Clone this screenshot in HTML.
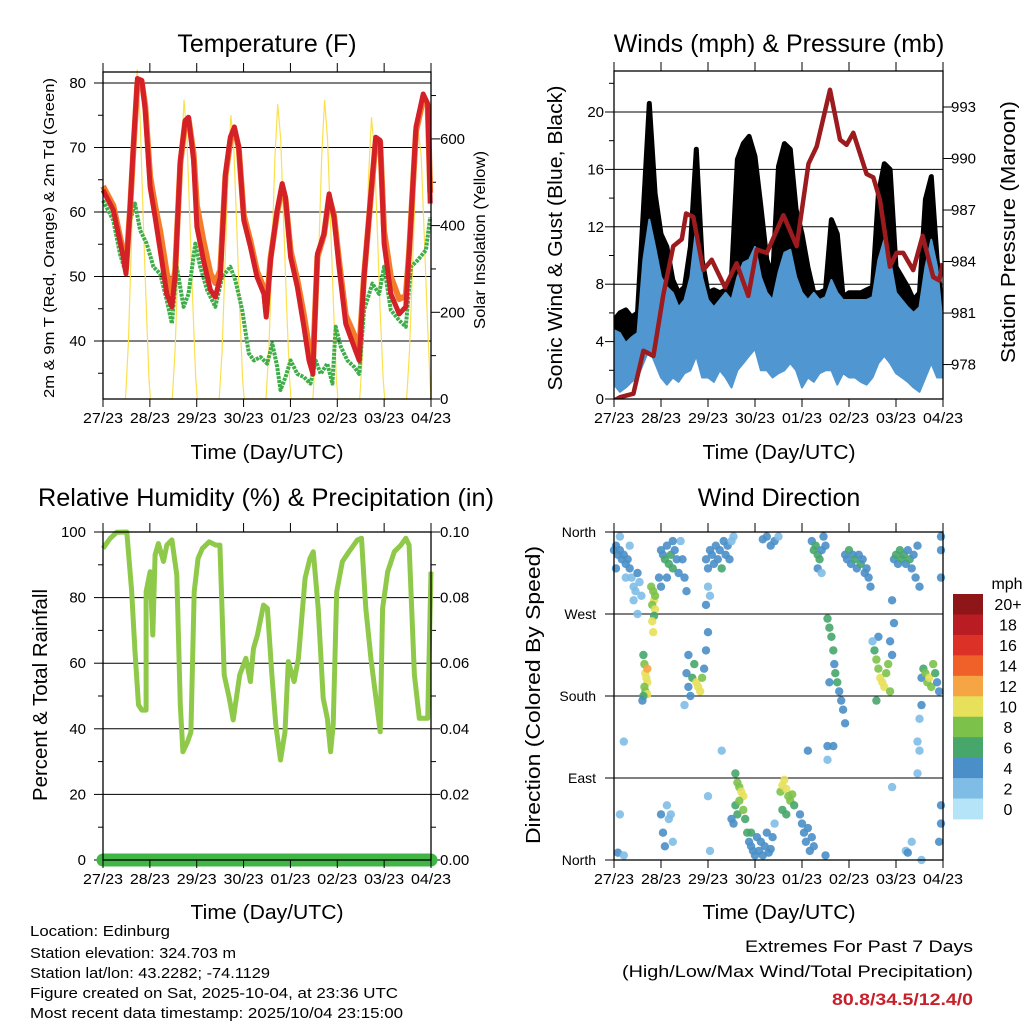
<!DOCTYPE html>
<html><head><meta charset="utf-8"><style>
html,body{margin:0;padding:0;background:#fff;}
svg{display:block;font-family:"Liberation Sans",Arial,sans-serif;}
</style></head><body>
<svg id="root" width="1024" height="1024" viewBox="0 0 1024 1024" xmlns="http://www.w3.org/2000/svg">
<defs><clipPath id="clip2"><rect x="614" y="71" width="329" height="328"/></clipPath></defs>
<rect x="0" y="0" width="1024" height="1024" fill="#fff"/>
<g id="p1"></g>
<g id="p2"></g>
<g id="p3"></g>
<g id="p4"></g>
<g id="txt" fill="#000">
<text x="267" y="52" font-size="25" text-anchor="middle">Temperature (F)</text>
<text x="779" y="52" font-size="25" text-anchor="middle">Winds (mph) &amp; Pressure (mb)</text>
<text x="266" y="506" font-size="25" text-anchor="middle" textLength="456" lengthAdjust="spacingAndGlyphs">Relative Humidity (%) &amp; Precipitation (in)</text>
<text x="779" y="506" font-size="25" text-anchor="middle">Wind Direction</text>
<text x="267" y="459" font-size="20" text-anchor="middle" textLength="153" lengthAdjust="spacingAndGlyphs">Time (Day/UTC)</text>
<text x="779" y="459" font-size="20" text-anchor="middle" textLength="153" lengthAdjust="spacingAndGlyphs">Time (Day/UTC)</text>
<text x="267" y="919" font-size="20" text-anchor="middle" textLength="153" lengthAdjust="spacingAndGlyphs">Time (Day/UTC)</text>
<text x="779" y="919" font-size="20" text-anchor="middle" textLength="153" lengthAdjust="spacingAndGlyphs">Time (Day/UTC)</text>
<text transform="translate(54,238) rotate(-90)" font-size="15" text-anchor="middle" textLength="320" lengthAdjust="spacingAndGlyphs">2m &amp; 9m T (Red, Orange) &amp; 2m Td (Green)</text>
<text transform="translate(485,240) rotate(-90)" font-size="16" text-anchor="middle" textLength="178" lengthAdjust="spacingAndGlyphs">Solar Insolation (Yellow)</text>
<text transform="translate(562,238) rotate(-90)" font-size="20" text-anchor="middle" textLength="305" lengthAdjust="spacingAndGlyphs">Sonic Wind &amp; Gust (Blue, Black)</text>
<text transform="translate(1015,232) rotate(-90)" font-size="20" text-anchor="middle" textLength="262" lengthAdjust="spacingAndGlyphs">Station Pressure (Maroon)</text>
<text transform="translate(47,695) rotate(-90)" font-size="20" text-anchor="middle" textLength="212" lengthAdjust="spacingAndGlyphs">Percent &amp; Total Rainfall</text>
<text transform="translate(540,695) rotate(-90)" font-size="20" text-anchor="middle" textLength="298" lengthAdjust="spacingAndGlyphs">Direction (Colored By Speed)</text>
<text x="30" y="936" font-size="15" textLength="140" lengthAdjust="spacingAndGlyphs">Location: Edinburg</text>
<text x="30" y="958" font-size="15" textLength="206" lengthAdjust="spacingAndGlyphs">Station elevation: 324.703 m</text>
<text x="30" y="978" font-size="15" textLength="240" lengthAdjust="spacingAndGlyphs">Station lat/lon: 43.2282; -74.1129</text>
<text x="30" y="998" font-size="15" textLength="368" lengthAdjust="spacingAndGlyphs">Figure created on Sat, 2025-10-04, at 23:36 UTC</text>
<text x="30" y="1018" font-size="15" textLength="373" lengthAdjust="spacingAndGlyphs">Most recent data timestamp: 2025/10/04 23:15:00</text>
<text x="973" y="952" font-size="17" text-anchor="end" textLength="228" lengthAdjust="spacingAndGlyphs">Extremes For Past 7 Days</text>
<text x="973" y="977" font-size="17" text-anchor="end" textLength="351" lengthAdjust="spacingAndGlyphs">(High/Low/Max Wind/Total Precipitation)</text>
<text x="973" y="1005" font-size="17" font-weight="bold" fill="#c8202a" text-anchor="end" textLength="141" lengthAdjust="spacingAndGlyphs">80.8/34.5/12.4/0</text>
</g>
</svg>
<script>
// ---------- DATA ----------
const dayLabels = ["27/23","28/23","29/23","30/23","01/23","02/23","03/23","04/23"];
const tempTicks = [40,50,60,70,80];
const solarTicks = [0,200,400,600];
const windTicks = [0,4,8,12,16,20];
const pressTicks = [978,981,984,987,990,993];
const rhTicks = [0,20,40,60,80,100];
const precipTicks = ["0.00","0.02","0.04","0.06","0.08","0.10"];
const dirTicks = ["North","East","South","West","North"];
const speedBins = ["0","2","4","6","8","10","12","14","16","18","20+"];
const speedColors = ["#b5e3f8","#7fbce6","#4a8fc8","#47a66a","#7cc24a","#e7e05a","#f6a545","#f0612a","#dc3127","#b91c22","#8e1518"];

const tempTimes = [0,5.3,10.4,11.8,13.9,15.6,17.6,19.9,21.6,24.1,26.7,29.3,32.7,35.3,37,39.6,42.1,43.8,46.4,48.1,51.5,55,57.5,60.1,62.7,65.2,67.3,69.5,72.1,75.5,78.9,82.4,83.6,85.8,89.2,91.8,93.5,96.1,99.5,102.9,105.5,107.5,109.8,113.2,115.8,118.3,120.9,124.3,128.6,131.2,133.7,137.2,139.7,142,144,147.4,151.7,155.1,156.8,160.3,164,166.3,167.6];
const temp2m = [63.4,60.3,53.0,50.4,60.8,70.6,80.7,80.4,75.8,63.9,59.2,54.1,47.3,45.3,50.4,68.0,74.2,74.7,68.0,57.7,52.5,47.9,46.8,49.9,65.9,71.6,73.2,70.1,58.7,54.6,49.9,47.3,43.7,52.5,60.3,64.4,62.3,53.0,48.4,42.2,37.0,34.9,53.5,56.6,62.8,59.2,51.5,42.7,39.1,37.0,49.9,62.8,71.6,71.1,55.1,47.3,44.2,45.3,53.5,73.2,78.3,76.8,61.3];
const temp9m = [64.0,61.0,53.8,51.2,60.5,70.0,80.0,80.0,76.5,65.5,61.0,57.0,50.5,47.5,51.0,67.5,74.0,74.5,69.0,61.0,55.5,50.5,49.0,51.0,65.5,71.0,72.8,70.0,59.5,55.5,50.8,48.2,44.5,52.8,60.0,64.0,62.0,54.0,49.5,44.0,39.0,36.5,53.0,56.5,62.3,59.5,52.5,44.0,41.0,38.5,50.0,62.5,71.0,70.8,57.0,50.0,46.5,47.0,53.8,72.5,77.5,76.5,63.0];
const dewTimes = [0,5.3,8.7,11.8,13.9,16.4,19,22.4,25.8,29.3,32.7,35.3,37.8,41.3,43.8,47.3,49.8,53.3,57.5,61,65.2,67.8,71.3,74.7,77.3,80.7,84.1,86.7,89.2,90.9,93.5,96.1,99.5,102.9,106.3,108.9,111.5,114.9,117.5,119.2,121.8,125.2,128.6,131.2,133.7,138,141.4,144,147.4,151.7,155.1,157.7,161.1,165.4,167.6];
const dewVals = [61.8,58.7,53.5,50.4,58.7,61.3,57.2,55.1,51.5,50.4,46.3,42.7,51.5,45.3,47.3,55.1,51.5,47.9,45.3,49.9,51.5,49.4,44.8,38.1,37.0,37.5,36.5,39.6,36.0,32.4,34.4,37.0,34.9,34.4,33.4,37.0,34.9,36.5,33.4,42.2,39.1,37.0,36.0,34.9,44.8,48.9,47.3,51.5,44.8,43.2,42.2,51.5,52.5,54.1,59.2];
const solarTimes = [11.5,13,14.5,16,17.5,19,20.5,22,23.5,24.3, 35.5,37,38.5,40,41.5,43,44.5,46,47.5,48.3, 59.5,61,62.5,64,65.5,67,68.5,70,71.5,72.3, 83.5,85,86.5,88,89.5,91,92.5,94,95.5,96.3, 107.5,109,110.5,112,113.5,115,116.5,118,119.5,120.3, 131.5,133,134.5,136,137.5,139,140.5,142,143.5,144.3, 155.5,157,158.5,160,161.5,163,164.5,166,167.5,168];
const solarVals = [0,130,350,620,760,650,430,230,50,0, 0,120,320,540,690,600,410,220,50,0, 0,110,310,520,655,580,400,210,45,0, 0,120,330,550,680,600,410,220,50,0, 0,120,330,560,690,600,410,220,50,0, 0,110,300,510,650,570,390,200,45,0, 0,110,300,500,620,560,380,200,40,0];

const pressTimes = [0,3.1,9.9,15,20.1,25.2,30.3,34.6,36.8,40.5,45.6,49.9,56.7,62.6,68.6,72.9,78,86.5,93.3,99.3,103.5,110.3,115.4,118.8,122.2,129,132.4,135.8,140.9,144.3,147.7,152.8,157.6,163,166.1,167.8];
const pressVals = [975.9,976.1,976.3,978.8,978.5,982.1,984.9,985.3,986.8,986.6,983.5,984.1,982.5,983.9,982.0,984.7,984.5,986.7,984.9,989.7,990.7,994.0,991.1,990.8,991.5,989.1,988.9,987.6,983.7,984.5,984.5,983.5,985.5,983.1,982.9,983.9];
const windTimes = [0,3,6,9,12,15,18,21,24,27,30,33,36,39,42,45,48,51,54,57,60,63,66,69,72,75,78,81,84,87,90,93,96,99,102,105,108,111,114,117,120,123,126,129,132,135,138,141,144,147,150,153,156,159,162,165,168];
const windLow = [1.0,0.5,0.8,1.2,1.5,2.5,3.5,2.5,1.5,1.0,1.5,1.2,1.8,2.0,3.0,1.5,1.5,1.2,2.0,1.5,0.8,2.0,2.5,3.0,3.5,2.0,2.0,1.5,1.8,2.0,2.5,2.0,0.8,1.5,1.2,1.8,2.0,2.0,1.0,1.8,1.5,1.5,1.2,1.0,1.5,2.5,3.0,2.5,1.8,1.5,1.2,0.8,0.5,1.5,2.5,1.5,1.5];
const windHigh = [4.8,4.6,3.9,4.3,4.6,9.7,12.5,10.6,8.5,7.8,7.4,6.4,6.9,8.5,12.0,8.5,6.9,6.4,6.9,7.4,6.9,8.5,9.5,9.7,10.6,8.5,7.4,6.9,8.8,10.2,10.4,8.5,7.4,6.9,7.4,6.9,7.1,8.3,7.4,6.9,6.9,6.9,6.9,6.9,7.1,9.7,11.1,9.7,7.4,6.9,6.4,6.0,6.4,9.2,11.1,9.2,5.0];
const gustVals = [5.5,6.0,6.2,5.7,6.0,13.2,20.6,14.3,11.5,10.6,8.3,7.4,7.8,10.6,17.4,9.7,7.4,7.6,7.4,7.6,8.5,16.7,17.8,18.3,16.9,13.4,9.7,8.5,16.2,17.8,17.4,13.2,11.5,9.2,7.4,7.4,7.6,12.5,11.5,7.1,7.4,7.4,7.4,7.6,7.8,14.3,16.4,16.0,9.2,8.5,7.8,6.9,7.4,13.9,15.5,9.7,5.5];

const rhTimes = [0,3.6,7,12.2,14.7,16.4,18.2,19.9,22.1,22.1,24.1,25.5,26.7,28.4,31,32.7,35.3,37.8,39.6,40.9,43.3,45,46.7,48.7,50.9,54.4,57.8,59.9,62.1,64.7,66.7,70,73.2,75.5,77.1,79.1,82.2,84.2,86.5,88.5,90.9,93.2,94.9,97.9,100.1,103.5,106,107.7,110.2,112.8,114.9,116.6,117.9,119.7,122.6,126,130.3,132.4,134.6,137.2,142,143.2,145.8,149.2,152.6,155.1,156.8,159.5,162,163.8,166.3,168];
const rhVals = [95,98,99.9,100,81.8,63.5,47.3,45.7,45.7,81.8,87.9,68.6,93,96.5,91,96,97.6,86.9,47.3,33,36,39,81.8,92,95,97,96,96,56.4,49.3,42.7,56.4,61.5,54.4,64.5,68.6,77.7,76.7,56.4,41.2,30.5,39.1,60.5,54.4,61.5,85.9,92,94,76.7,49.3,43.2,33,41.2,81.8,91,94,97.6,98.1,76.7,61.5,39.1,76.7,87.9,94,96,98.1,96,56.4,43.2,43.2,43.2,87.9];
const precipTimes = [0,168];
const precipVals = [0,0];

const dirTimes = [0,1,2,3,4,5,6,7,8,9,10,11,12,13,14,8,3,1,6,10,12, 19,20,20.5,21,19.5,21,20.5,19.5,20, 15,15.5,16,16.5,17,15.5,16,17,15,14.5,17, 24,25,26,27,28,29,30,31,32,33,34,35,36,37,23,24,27,30, 37,38,39,40,41,42,43,44,45,46,38,36,47,48, 47,48,49,50,51,52,53,54,55,56,57,58,59,60,61,48,47,49, 62,63,64,65,66,62,63,64,67,68,69,70,71,72,70,66,61,60,73, 74,75,76,77,78,79,80,81,82, 85,86,87,88,89,90,91,92,86,88, 95,96,97,98,99,100,101,102, 76,78,80,82,84, 101,102,103,104,105,106,107,108,104,106, 109,110,111,112,112.5,113,114,115,116,117,118,110,112,109, 118,119,120,121,122,123,124,125,126,127,128,129,130,131, 133,134,135,136,137,138,139,140,141,142,135,132,134, 143,144,145,146,147,148,149,150,151,152,153,154,155,156,142,143,141, 157,158,159,160,161,162,163,164,165,166,157,156,155, 167,167,167,167,167,166, 2,5,3,25,24,27,28,29,26,30,48,49,55,5,99,109,108,142,152,157,149,150,155,156];
const dirDegs = [340,345,335,340,330,335,325,330,320,310,300,295,315,305,290,345,355,320,310,285,270, 300,295,285,290,280,275,268,262,250, 225,215,205,200,195,190,185,182,180,175,210, 340,335,330,345,325,335,320,340,330,315,350,330,310,295,310,300,310,350, 205,190,180,200,215,195,190,185,200,210,225,170,230,250, 330,320,340,335,325,345,330,340,320,350,335,345,330,350,355,300,280,290, 95,85,80,75,70,60,50,65,45,30,20,15,10,5,30,55,40,45,25, 10,20,5,15,30,8,12,25,40, 75,82,88,78,70,65,72,60,55,50, 50,40,30,20,35,10,25,15, 352,355,345,350,355, 350,340,345,335,330,340,355,345,320,315, 265,255,245,230,215,205,195,185,175,165,150,195,125,110, 335,330,340,325,335,330,320,335,325,330,315,320,310,300, 230,220,210,200,195,190,205,215,185,225,245,240,175, 330,335,325,340,330,335,325,340,330,320,335,310,345,300,285,260,240, 200,210,205,195,200,190,215,205,195,185,170,155,130, 355,340,310,60,40,20, 8,5,50,30,50,60,45,50,15,20,70,10,120,130,120,125,5,80,20,0,10,8,95,120];
const dirSpeeds = [3,3,4,3,4,3,3,4,3,2,2,2,3,2,2,2,2,3,2,1,1, 7,8,9,7,8,9,6,9,10, 6,8,9,10,9,7,8,9,6,4,12, 4,4,5,4,5,6,5,4,4,3,2,3,3,3,3,3,4,3, 4,4,3,6,6,9,10,9,7,4,4,2,4,3, 4,3,4,4,4,4,4,4,5,3,4,4,3,2,2,2,3,2, 6,7,8,9,10,6,5,7,6,5,4,4,3,4,6,8,3,4,4, 4,4,3,4,4,3,4,3,2, 7,9,10,9,8,7,8,6,5,6, 4,4,3,4,4,3,4,4, 3,3,3,3,2, 4,5,6,6,5,4,4,3,3,2, 6,6,5,6,4,6,5,4,4,4,3,3,3,2, 4,4,5,4,4,5,4,4,5,4,4,3,3,3, 6,7,8,9,10,9,8,7,7,4,3,2,6, 4,5,4,5,6,5,4,4,5,4,4,3,3,3,3,3,3, 4,6,7,8,9,8,7,6,4,4,3,2,2, 3,4,3,3,4,3, 3,2,1,4,4,2,1,1,3,1,2,1,1,1,3,3,4,2,2,2,1,3,1,1];

// ---------- HELPERS ----------
const NS = "http://www.w3.org/2000/svg";
function mk(parent, tag, attrs, text) {
  const e = document.createElementNS(NS, tag);
  for (const k in attrs) e.setAttribute(k, attrs[k]);
  if (text !== undefined) e.textContent = text;
  parent.appendChild(e);
  return e;
}
const P = {
  p1: {l:103, r:431, t:72, b:399},
  p2: {l:614, r:943, t:71, b:399},
  p3: {l:103, r:431, t:532, b:860},
  p4: {l:614, r:943, t:532, b:860}
};
function xs(p) { return t => p.l + t / 168 * (p.r - p.l); }
const x1 = xs(P.p1), x2 = xs(P.p2), x3 = xs(P.p3), x4 = xs(P.p4);
const yT = v => 83 + (80 - v) * 6.45;
const yS = v => 399 - v * 0.4335;
const yW = v => 399 - v * 14.35;
const yP = v => 107 + (993 - v) * 17.17;
const yRH = v => 860 - v * 3.28;
const yPr = v => 860 - v * 3280;
const yD = v => 860 - v * 328 / 360;

function pathFrom(ts, vs, fx, fy) {
  let d = "";
  for (let i = 0; i < ts.length; i++) d += (i ? "L" : "M") + fx(ts[i]).toFixed(1) + "," + fy(vs[i]).toFixed(1);
  return d;
}

function xAxis(g, p, fx, name) {
  for (let i = 0; i < dayLabels.length; i++) {
    const x = fx(i * 24);
    let tk = mk(g, "line", {x1:x, y1:p.t - 9, x2:x, y2:p.t, stroke:"#000", "stroke-width":1});
    
    
    tk = mk(g, "line", {x1:x, y1:p.b, x2:x, y2:p.b + 8, stroke:"#000", "stroke-width":1});
    
    
    const lb = mk(g, "text", {x:x, y:p.b + 24, "font-size":15, "text-anchor":"middle", textLength:40, lengthAdjust:"spacingAndGlyphs"}, dayLabels[i]);
    
    
  }
}
function frame(g, p, name) {
  const r = mk(g, "rect", {x:p.l, y:p.t, width:p.r - p.l, height:p.b - p.t, fill:"none", stroke:"#000", "stroke-width":1.3});
  
  
}
function hgrid(g, p, y, name) {
  const ln = mk(g, "line", {x1:p.l, y1:y, x2:p.r, y2:y, stroke:"#000", "stroke-width":1});
  
  
}
function ytick(g, x, y, len, name) {
  const ln = mk(g, "line", {x1:x, y1:y, x2:x + len, y2:y, stroke:"#000", "stroke-width":1});
  
  
}
function label(g, x, y, txt, anchor, name, size) {
  const t = mk(g, "text", {x:x, y:y, "font-size":size || 15, "text-anchor":anchor}, txt);
  
  
}

// ---------- PANEL 1: TEMPERATURE ----------
(function(){
  const g = document.getElementById("p1"), p = P.p1;
  for (const v of tempTicks) {
    hgrid(g, p, yT(v), 'temp-gridline');
    ytick(g, p.l - 9, yT(v), 9, 'temp-y-tick');
    label(g, 86, yT(v) + 5, String(v), "end", 'temp-y-tick-label');
  }
  for (let v = 35; v <= 75; v += 10) ytick(g, p.l - 5, yT(v), 5, 'temp-minor-tick');
  for (const v of solarTicks) {
    ytick(g, p.r, yS(v), 9, 'solar-y-tick');
    label(g, 440, yS(v) + 5, String(v), "start", 'solar-y-tick-label');
  }
  for (let v = 100; v <= 700; v += 200) ytick(g, p.r, yS(v), 5, 'solar-minor-tick');
  let s = mk(g, "path", {d:pathFrom(solarTimes, solarVals, x1, yS), fill:"none", stroke:"#fbe04e", "stroke-width":1.2});
  
  
  s = mk(g, "path", {d:pathFrom(dewTimes, dewVals, x1, yT), fill:"none", stroke:"#3fae49", "stroke-width":4, "stroke-dasharray":"3,1", "stroke-linejoin":"round"});
  
  
  s = mk(g, "path", {d:pathFrom(tempTimes, temp9m, x1, yT), fill:"none", stroke:"#f47b29", "stroke-width":6, "stroke-linejoin":"round"});
  
  
  s = mk(g, "path", {d:pathFrom(tempTimes, temp2m, x1, yT), fill:"none", stroke:"#d42027", "stroke-width":5, "stroke-linejoin":"round"});
  
  
  frame(g, p, 'temp');
  xAxis(g, p, x1, 'temp');
})();

// ---------- PANEL 2: WINDS ----------
(function(){
  const g = document.getElementById("p2"), p = P.p2;
  for (const v of windTicks) {
    if (v > 0) hgrid(g, p, yW(v), 'wind-gridline');
    ytick(g, p.l - 9, yW(v), 9, 'wind-y-tick');
    label(g, 604, yW(v) + 5, String(v), "end", 'wind-y-tick-label');
  }
  for (let v = 2; v <= 22; v += 4) ytick(g, p.l - 5, yW(v), 5, 'wind-minor-tick');
  for (const v of pressTicks) {
    ytick(g, p.r, yP(v), 9, 'pressure-y-tick');
    label(g, 951, yP(v) + 5, String(v), "start", 'pressure-y-tick-label');
  }
  const cg = mk(g, "g", {"clip-path":"url(#clip2)"});
  
  
  let d = "";
  for (let i = 0; i < windTimes.length; i++) d += (i ? "L" : "M") + x2(windTimes[i]).toFixed(1) + "," + yW(gustVals[i]).toFixed(1);
  for (let i = windTimes.length - 1; i >= 0; i--) d += "L" + x2(windTimes[i]).toFixed(1) + "," + yW(windHigh[i] - 1.5).toFixed(1);
  let s = mk(cg, "path", {d:d + "Z", fill:"#000", stroke:"#000", "stroke-width":5, "stroke-linejoin":"round"});
  
  
  d = "";
  for (let i = 0; i < windTimes.length; i++) d += (i ? "L" : "M") + x2(windTimes[i]).toFixed(1) + "," + yW(windHigh[i]).toFixed(1);
  for (let i = windTimes.length - 1; i >= 0; i--) d += "L" + x2(windTimes[i]).toFixed(1) + "," + yW(windLow[i]).toFixed(1);
  s = mk(cg, "path", {d:d + "Z", fill:"#5096d0", stroke:"#5096d0", "stroke-width":2, "stroke-linejoin":"round"});
  
  
  s = mk(cg, "path", {d:pathFrom(pressTimes, pressVals, x2, yP), fill:"none", stroke:"#9b1b1e", "stroke-width":4.5, "stroke-linejoin":"round"});
  
  
  frame(g, p, 'wind');
  xAxis(g, p, x2, 'wind');
})();

// ---------- PANEL 3: HUMIDITY ----------
(function(){
  const g = document.getElementById("p3"), p = P.p3;
  for (let i = 0; i < rhTicks.length; i++) {
    const v = rhTicks[i];
    if (v > 0 && v < 100) hgrid(g, p, yRH(v), 'rh-gridline');
    ytick(g, p.l - 9, yRH(v), 9, 'rh-y-tick');
    label(g, 86, yRH(v) + 5, String(v), "end", 'rh-y-tick-label');
    ytick(g, p.r, yRH(v), 9, 'precip-y-tick');
    label(g, 440, yRH(v) + 5, precipTicks[i], "start", 'precip-y-tick-label');
  }
  for (let v = 10; v <= 90; v += 20) { ytick(g, p.l - 5, yRH(v), 5, 'rh-minor-tick'); ytick(g, p.r, yRH(v), 5, 'precip-minor-tick'); }
  let s = mk(g, "path", {d:pathFrom(rhTimes, rhVals, x3, yRH), fill:"none", stroke:"#8fc94a", "stroke-width":5, "stroke-linejoin":"round"});
  
  
  s = mk(g, "path", {d:pathFrom(precipTimes, precipVals, x3, yPr), fill:"none", stroke:"#41b546", "stroke-width":13, "stroke-linecap":"round"});
  
  
  frame(g, p, 'rh');
  xAxis(g, p, x3, 'rh');
})();

// ---------- PANEL 4: WIND DIRECTION ----------
(function(){
  const g = document.getElementById("p4"), p = P.p4;
  for (let i = 0; i < dirTicks.length; i++) {
    const y = yD(i * 90);
    if (i > 0 && i < 4) hgrid(g, p, y, 'direction-gridline');
    const ln = mk(g, "line", {x1:p.l - 9, y1:y, x2:p.l, y2:y, stroke:"#000", "stroke-width":1});
    
    
    label(g, 596, y + 5, dirTicks[i], "end", 'direction-y-tick-label', 14);
  }
  for (let i = 0; i < dirTimes.length; i++) {
    const ci = Math.min(10, Math.round(dirSpeeds[i] / 2));
    const c = mk(g, "circle", {cx:x4(dirTimes[i]).toFixed(1), cy:yD(dirDegs[i]).toFixed(1), r:4.2, fill:speedColors[ci], "fill-opacity":0.9});
    
    
  }
  frame(g, p, 'direction');
  xAxis(g, p, x4, 'direction');
  const bh = (819 - 594) / speedBins.length;
  for (let i = 0; i < speedBins.length; i++) {
    const k = speedBins.length - 1 - i;
    const r = mk(g, "rect", {x:953, y:(594 + i * bh).toFixed(2), width:30, height:(bh + 0.4).toFixed(2), fill:speedColors[k]});
    
    
    label(g, 1008, 594 + i * bh + bh / 2 + 6, speedBins[k], "middle", 'colorbar-label', 16);
  }
  label(g, 1007, 589, "mph", "middle", 'colorbar-title', 16);
})();
</script>
</body></html>
